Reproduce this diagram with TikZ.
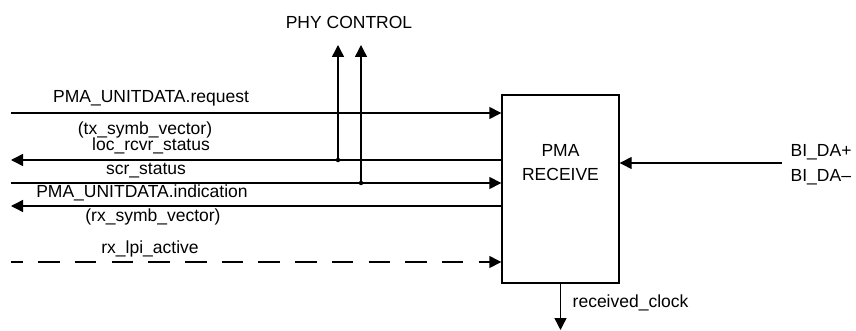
\documentclass[tikz,border=0pt]{standalone}
\usepackage{fontspec}
\setmainfont{Liberation Sans}
\usetikzlibrary{arrows.meta}

\begin{document}
\begin{tikzpicture}[x=1pt, y=-1pt, line width=1.4pt, >={Triangle[length=12pt,width=12pt]},
  lbl/.style={font=\fontsize{17.5}{20}\selectfont, inner sep=0pt},
  dot/.style={circle, fill, inner sep=0pt, minimum size=4.5pt}]
\useasboundingbox (0,0) rectangle (856,331);
% the receive block
\node[draw, minimum width=117pt, minimum height=188pt, inner sep=0pt] (rcv) at (560.5,189) {};
\node[lbl, align=center] (rcvtxt) at (560.5,163) {PMA\\[4pt]RECEIVE};

% left side end points
\coordinate (req) at (11,113);
\coordinate (loc) at (11,160);
\coordinate (scr) at (11,183);
\coordinate (ind) at (11,206);
\coordinate (lpi) at (11,262);

% the signals on the left
\draw[->] (req) -- (req -| rcv.west);
\draw[->] (loc -| rcv.west) -- (loc);
\draw[->] (scr) -- (scr -| rcv.west);
\draw[->] (ind -| rcv.west) -- (ind);
\draw[->, dash pattern=on 21.5pt off 15.2pt, dash phase=9.5pt] (lpi) -- (lpi -| rcv.west);

\node[lbl] (reqtxt) at (151,98) {PMA\_UNITDATA.request};
\node[lbl] (txvec) at (145,130) {(tx\_symb\_vector)};
\node[lbl] (loctxt) at (151,146) {loc\_rcvr\_status};
\node[lbl] (scrtxt) at (146,171) {scr\_status};
\node[lbl] (indtxt) at (142,193) {PMA\_UNITDATA.indication};
\node[lbl] (rxvec) at (153,217) {(rx\_symb\_vector)};
\node[lbl] (lpitxt) at (150,249) {rx\_lpi\_active};

% PHY CONTROL taps
\coordinate (pc1) at (338,45);
\coordinate (pc2) at (361,45);
\node[dot] (j1) at (loc -| pc1) {};
\node[dot] (j2) at (scr -| pc2) {};
\draw[->] (j1.center) -- (pc1);
\draw[->] (j2.center) -- (pc2);
\node[lbl] (phy) at (349,22) {PHY CONTROL};

% medium side
\coordinate (bi) at (782,163);
\draw[->] (bi) -- (bi -| rcv.east);
\node[lbl, anchor=west] (bip) at (790,152) {BI\_DA+};
\node[lbl, anchor=west] (bim) at (790,177) {BI\_DA–};

% recovered clock
\coordinate (clk) at (560.5,330);
\draw[->] (rcv.south) -- (clk);
\node[lbl, anchor=west] (clktxt) at (572,303) {received\_clock};
\end{tikzpicture}
\end{document}
